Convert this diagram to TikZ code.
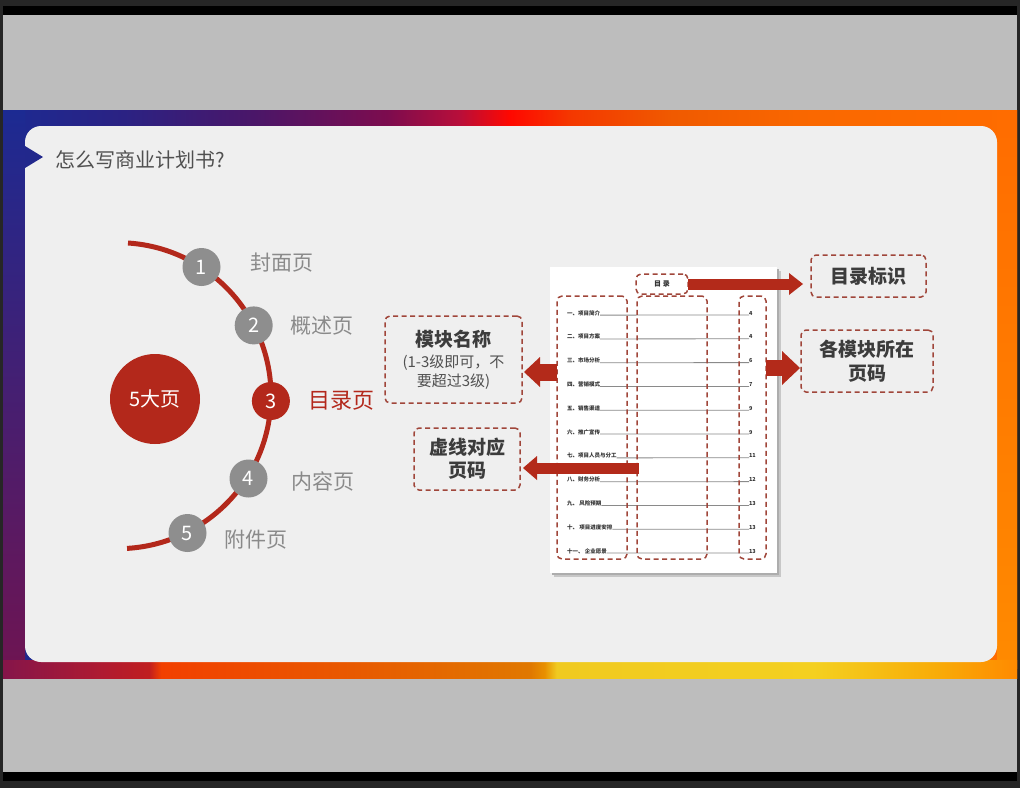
\documentclass[tikz,border=0pt]{standalone}
\usepackage{fontspec}
\setmainfont{Noto Sans CJK SC}
\usetikzlibrary{arrows.meta}

% palette
\definecolor{framedark}{HTML}{262626}
\definecolor{slidegray}{HTML}{BDBDBD}
\definecolor{panel}{HTML}{EFEFEF}
\definecolor{arcred}{HTML}{B3281B}
\definecolor{arrowred}{HTML}{B32A1A}
\definecolor{dashred}{HTML}{A0463A}
\definecolor{dotgray}{HTML}{8E8E8E}
\definecolor{labelgray}{HTML}{8A8A8A}
\definecolor{textdark}{HTML}{3C3C3C}
\definecolor{textmid}{HTML}{505050}
\definecolor{tocgray}{HTML}{333333}
\definecolor{leadergray}{HTML}{8A8A8A}

% top band colours
\definecolor{tb0}{HTML}{1C2A92}
\definecolor{tb1}{HTML}{2B2283}
\definecolor{tb2}{HTML}{4B1668}
\definecolor{tb3}{HTML}{7D0C4E}
\definecolor{tb4}{HTML}{B80E3A}
\definecolor{tb5}{HTML}{FF0800}
\definecolor{tb6}{HTML}{F43800}
\definecolor{tb7}{HTML}{F05A00}
\definecolor{tb8}{HTML}{FA6800}
\definecolor{tb9}{HTML}{FF6C00}
% bottom band colours
\definecolor{bb0}{HTML}{85154A}
\definecolor{bb1}{HTML}{B01A30}
\definecolor{bb2}{HTML}{C01E20}
\definecolor{bb3}{HTML}{F24000}
\definecolor{bb4}{HTML}{E85A00}
\definecolor{bb5}{HTML}{E07800}
\definecolor{bb6}{HTML}{E89000}
\definecolor{bb7}{HTML}{F0CA20}
\definecolor{bb8}{HTML}{F4D020}
\definecolor{bb9}{HTML}{F8AC08}
\definecolor{bb10}{HTML}{FF8A00}
\definecolor{leftbot}{HTML}{6E1452}
\definecolor{notchblue}{HTML}{22288C}

\pgfdeclarehorizontalshading{topband}{100bp}{color(0bp)=(tb0); color(25bp)=(tb0); color(31bp)=(tb1); color(37.5bp)=(tb2); color(44bp)=(tb3); color(47.5bp)=(tb4); color(50bp)=(tb5); color(53bp)=(tb6); color(58bp)=(tb7); color(65bp)=(tb8); color(75bp)=(tb9); color(100bp)=(tb9)}
\pgfdeclarehorizontalshading{bottomband}{100bp}{color(0bp)=(bb0); color(25bp)=(bb0); color(30bp)=(bb1); color(32.2bp)=(bb2); color(32.8bp)=(bb3); color(42.5bp)=(bb4); color(51bp)=(bb5); color(51.7bp)=(bb6); color(52.3bp)=(bb7); color(65bp)=(bb8); color(71bp)=(bb9); color(75bp)=(bb10); color(100bp)=(bb10)}

\tikzset{
  every node/.style={inner sep=0pt, outer sep=0pt},
  numdot/.style={circle, fill=dotgray, minimum size=38pt, text=white,
    font=\fontsize{20}{20}\selectfont},
  pagelabel/.style={anchor=west, text=labelgray, font=\fontsize{21}{21}\selectfont},
  dashbox/.style={draw=dashred, line width=1.5pt, dash pattern=on 5pt off 3.5pt,
    rounded corners=5pt},
  callout/.style={dashbox, align=center, text=textdark,
    font=\bfseries\fontsize{19}{24}\selectfont},
  tocentry/.style={anchor=west, text=tocgray, font=\bfseries\fontsize{5.5}{6}\selectfont},
  tocnum/.style={anchor=west, text=tocgray, font=\bfseries\fontsize{5.5}{6}\selectfont},
  leader/.style={draw=leadergray, line width=0.8pt},
  bararrow/.style n args={3}{draw=arrowred, line width=#1,
    -{Triangle[length=#2, width=#3, line width=0pt]}},
}

\begin{document}
\begin{tikzpicture}[x=1pt, y=-1pt]
\useasboundingbox (0,0) rectangle (1020,788);

% screen frame
\fill[framedark] (0,0) rectangle (1020,788);
\fill[black] (3,6) rectangle (1017,15);
\fill[slidegray] (3,15) rectangle (1017,110);
\fill[slidegray] (3,678) rectangle (1017,772);
\fill[black] (3,772) rectangle (1017,781);

% coloured slide border
\shade[shading=topband] (3,110) rectangle (1017,678);
\shade[top color=tb0, bottom color=leftbot] (3,110) rectangle (25,668);
\shade[top color=tb9, bottom color=bb10] (997,110) rectangle (1017,668);
\shade[shading=bottomband] (3,660) rectangle (1017,678);

% content panel with its notch
\fill[panel, rounded corners=16pt] (25,126) rectangle (997,662);
\fill[notchblue] (25,146) -- (43,157) -- (25,168) -- cycle;

% title
\node[anchor=west, text=textmid, font=\fontsize{20}{20}\selectfont] (title) at (55,160) {怎么写商业计划书?};

% the five pages on an arc
\draw[arcred, line width=5pt] (128,243) arc[start angle=-86.25, end angle=86.6, radius=153];
\node[circle, fill=arcred, minimum size=90pt, text=white, font=\fontsize{20}{20}\selectfont] (five) at (155,399) {5大页};

\node[numdot] (d1) at (201.5,267) {1};
\node[numdot] (d2) at (253.7,325.4) {2};
\node[numdot, fill=arcred] (d3) at (270.9,401) {3};
\node[numdot] (d4) at (248.5,478.5) {4};
\node[numdot] (d5) at (187.5,533) {5};

\node[pagelabel] (l1) at (250,263) {封面页};
\node[pagelabel] (l2) at (290,326) {概述页};
\node[pagelabel, text=arcred, font=\fontsize{22}{22}\selectfont] (l3) at (308,401) {目录页};
\node[pagelabel] (l4) at (291,481) {内容页};
\node[pagelabel] (l5) at (224,540) {附件页};

% table-of-contents page
\fill[black!22] (554,271) rectangle (781,577);
\fill[black!32] (552,269) rectangle (779,575);
\node[fill=white, minimum width=227pt, minimum height=306pt] (page) at (663.5,420) {};
\node[text=tocgray, font=\bfseries\fontsize{7}{8}\selectfont] (toctitle) at (662,284) {目\ 录};

\foreach \t/\p [count=\i] in {一、项目简介/4, 二、项目方案/4, 三、市场分析/6, 四、营销模式/7,
  五、销售渠道/9, 六、推广宣传/9, 七、项目人员与分工/11, 八、财务分析/12,
  九、\ 风险预期/13, 十、\ 项目进度安排/13, 十一、\ 企业愿景/13}{
  \pgfmathsetmacro{\yy}{313+23.8*(\i-1)}
  \node[tocentry] (e\i) at (567,\yy) {\t};
  \node[tocnum] (n\i) at (749,\yy) {\p};
  \draw[leader] (e\i.base east) -- (n\i.base west);
}

% dashed marks on the page
\node[dashbox, minimum width=52pt, minimum height=20pt] (tocbox) at (662,284) {};
\node[dashbox, minimum width=70pt, minimum height=263pt] (colL) at (592,427.5) {};
\node[dashbox, minimum width=70pt, minimum height=263pt] (colM) at (672,427.5) {};
\node[dashbox, minimum width=27pt, minimum height=263pt] (colR) at (752.5,427.5) {};

% callouts
\node[callout, minimum width=137pt, minimum height=87pt, text=textmid,
  font=\fontsize{15}{19}\selectfont] (mod) at (453.5,359.5)
  {{\bfseries\color{textdark}\fontsize{19}{22}\selectfont 模块名称}\\[2pt](1-3级即可，不\\要超过3级)};
\node[callout, minimum width=106pt, minimum height=62pt, font=\bfseries\fontsize{19}{23}\selectfont] (pgbox) at (467,459) {虚线对应\\页码};
\node[callout, minimum width=115pt, minimum height=42pt] (tag) at (868.5,276) {目录标识};
\node[callout, minimum width=132pt, minimum height=62pt] (pages) at (867,361) {各模块所在\\页码};

% arrows
\coordinate (aL) at (557,372);
\coordinate (aM) at (639,468);
\coordinate (aR) at (766,368);
\draw[bararrow={11pt}{14pt}{22pt}, shorten >=8pt] (tocbox.east) -- (tocbox.east -| tag.west);
\draw[bararrow={16pt}{18pt}{34pt}, shorten >=1pt] (aR) -- (aR -| pages.west);
\draw[bararrow={17pt}{16pt}{30pt}, shorten >=2pt] (aL) -- (aL -| mod.east);
\draw[bararrow={11pt}{14pt}{24pt}, shorten >=3pt] (aM) -- (aM -| pgbox.east);
\end{tikzpicture}
\end{document}
